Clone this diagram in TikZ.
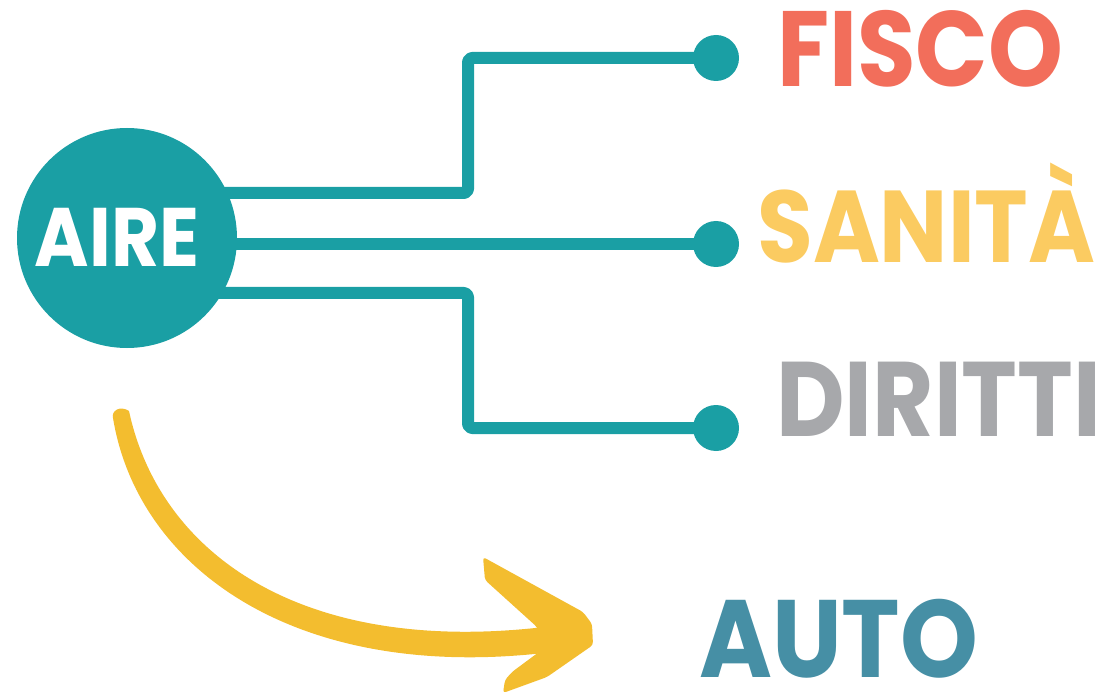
\documentclass[tikz,border=0pt]{standalone}
\usepackage{fontspec}
\setmainfont{Poppins}
\definecolor{teal1}{HTML}{1A9FA4}
\definecolor{fisco}{HTML}{F26E5B}
\definecolor{sanita}{HTML}{FBCB61}
\definecolor{diritti}{HTML}{A7A8AB}
\definecolor{auto}{HTML}{468FA5}
\definecolor{arrowy}{HTML}{F3BD2F}
\tikzset{
  conn/.style={draw=teal1, line width=12pt, rounded corners=4pt, line join=round},
  dot/.style={circle, fill=teal1, minimum size=46pt, inner sep=0pt},
  hub/.style={circle, fill=teal1, minimum size=220pt, inner sep=0pt},
  lbl/.style={anchor=base west, inner sep=0pt, font=\bfseries\fontsize{107}{107}\selectfont},
}
\begin{document}
\begin{tikzpicture}[x=1pt,y=-1pt]
\useasboundingbox (0,0) rectangle (1109,695);
\node[dot] (d1) at (716,58) {};
\node[dot] (d2) at (716,244) {};
\node[dot] (d3) at (716,428) {};
\coordinate (h) at (127,238);
\draw[conn] (h |- 0,193) -| (468,58) -- (d1.center);
\draw[conn] (h |- 0,244) -- (d2.center);
\draw[conn] (h |- 0,293) -| (468,428) -- (d3.center);
\node[hub] (aire) at (h) {};
\node[anchor=base, inner sep=0pt, text=white, font=\bfseries\fontsize{83}{83}\selectfont] (airet) at (117,267) {\scalebox{0.89}[1]{AIRE}};
\node[lbl, text=fisco] (fisco) at (777,87) {\scalebox{0.89}[1]{FISCO}};
\node[lbl, text=sanita, font=\bfseries\fontsize{102}{102}\selectfont] (sanita) at (757,262) {\scalebox{0.89}[1]{SANITÀ}};
\node[lbl, text=diritti, font=\bfseries\fontsize{106}{106}\selectfont] (diritti) at (776,436) {\scalebox{0.89}[1]{DIRITTI}};
\node[lbl, text=auto, font=\bfseries\fontsize{110}{110}\selectfont] (autot) at (699,677) {\scalebox{0.9}[1]{AUTO}};
% arrow shaft
\fill[arrowy] (129,411) .. controls (160,555) and (305,660) .. (560,625)
  -- (560,651) .. controls (300,686) and (138,570) .. (113,418)
  .. controls (111,411) and (120,405) .. (129,411) -- cycle;
% arrow head
\fill[arrowy, rounded corners=3pt] (483,557) -- (583,612) -- (592,624) -- (593,645) -- (547,677) -- (503,693) -- (505,680) -- (512,672) -- (543,649) -- (537,627) -- (485,580) -- cycle;
\end{tikzpicture}
\end{document}
